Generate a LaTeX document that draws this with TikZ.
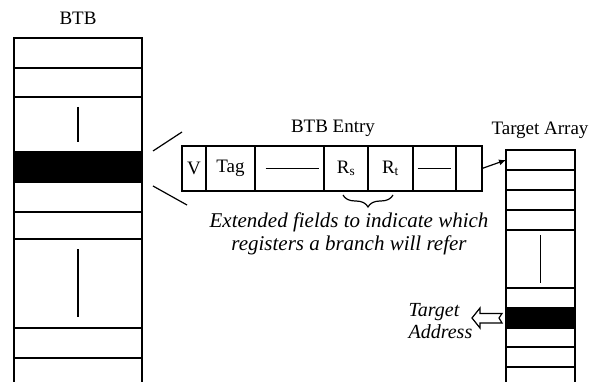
\documentclass[tikz,border=0pt]{standalone}
\usepackage{fontspec}
\setmainfont{Liberation Serif}
\usetikzlibrary{decorations.pathreplacing,arrows.meta}
\begin{document}
\begin{tikzpicture}[x=1pt,y=-1pt,
  font=\fontsize{19}{23}\selectfont,
  line width=1.2pt,
  cell/.style 2 args={draw,line width=1.2pt,inner sep=0pt,outer sep=0pt,anchor=north west,minimum width=#1,minimum height=#2},
  blk/.style={fill=black},
  lbl/.style={inner sep=0pt},
  itl/.style={inner sep=0pt,font=\fontsize{21}{23}\selectfont\itshape}]
\useasboundingbox (0,0) rectangle (590,382);
% BTB
\node[lbl] (btbl) at (78,18) {BTB};
\node[cell={128pt}{30pt}] (b1) at (14,38) {};
\node[cell={128pt}{29pt}] (b2) at (14,68) {};
\node[cell={128pt}{55pt}] (b3) at (14,97) {};
\node[cell={128pt}{30pt},blk] (b4) at (14,152) {};
\node[cell={128pt}{30pt}] (b5) at (14,182) {};
\node[cell={128pt}{27pt}] (b6) at (14,212) {};
\node[cell={128pt}{89pt}] (b7) at (14,239) {};
\node[cell={128pt}{30pt}] (b8) at (14,328) {};
\node[cell={128pt}{40pt}] (b9) at (14,358) {};
\draw ([yshift=17.5pt]b3.center) -- ([yshift=-17.5pt]b3.center);
\draw ([yshift=34pt]b7.center) -- ([yshift=-34pt]b7.center);
% BTB entry
\node[lbl] (entl) at (333,128) {BTB Entry};
\node[cell={24pt}{45pt}] (e1) at (182,146) {V};
\node[cell={49pt}{45pt}] (e2) at (206,146) {Tag};
\node[cell={69pt}{45pt}] (e3) at (255,146) {};
\node[cell={44pt}{45pt}] (e4) at (324,146) {R\textsubscript{s}};
\node[cell={45pt}{45pt}] (e5) at (368,146) {R\textsubscript{t}};
\node[cell={43pt}{45pt}] (e6) at (413,146) {};
\node[cell={26pt}{45pt}] (e7) at (456,146) {};
\draw ([xshift=-24pt]e3.center) -- ([xshift=29pt]e3.center);
\draw ([xshift=-17pt]e6.center) -- ([xshift=16pt]e6.center);
% zoom lines
\coordinate (z1a) at (153,151); \coordinate (z1b) at (182,132);
\coordinate (z2a) at (153,186); \coordinate (z2b) at (187,205);
\draw (z1a) -- (z1b);
\draw (z2a) -- (z2b);
% brace and note
\coordinate (br1) at (343,195); \coordinate (br2) at (393,195);
\draw[decorate,decoration={brace,amplitude=12pt,mirror}] (br1) -- (br2);
\node[itl,align=center] (note) at (349,233.5) {Extended fields to indicate which\\registers a branch will refer};
% Target array
\node[lbl] (tarl) at (540,130) {Target Array};
\node[cell={69pt}{20pt}] (t1) at (506,150) {};
\node[cell={69pt}{20pt}] (t2) at (506,170) {};
\node[cell={69pt}{20pt}] (t3) at (506,190) {};
\node[cell={69pt}{20pt}] (t4) at (506,210) {};
\node[cell={69pt}{58pt}] (t5) at (506,230) {};
\node[cell={69pt}{20pt}] (t6) at (506,288) {};
\node[cell={69pt}{20pt},blk] (t7) at (506,308) {};
\node[cell={69pt}{19pt}] (t8) at (506,328) {};
\node[cell={69pt}{20pt}] (t9) at (506,347) {};
\node[cell={69pt}{40pt}] (t10) at (506,367) {};
\draw ([yshift=24pt]t5.center) -- ([yshift=-24pt]t5.center);
% pointer
\draw[-{Latex[length=7pt,width=6pt]}] (e7.east) -- (t1.west);
% target address
\node[itl,font=\fontsize{20}{22}\selectfont\itshape,align=left,anchor=west] (tadr) at (408,321) {Target\\Address};
\begin{scope}[shift={(t7.west)}]
\draw[fill=white] (-34,0) -- (-26,-10) -- (-26,-4.5) -- (-4,-4.5) -- (-7,0) -- (-4,5) -- (-26,5) -- (-26,10) -- cycle;
\end{scope}
\end{tikzpicture}
\end{document}
